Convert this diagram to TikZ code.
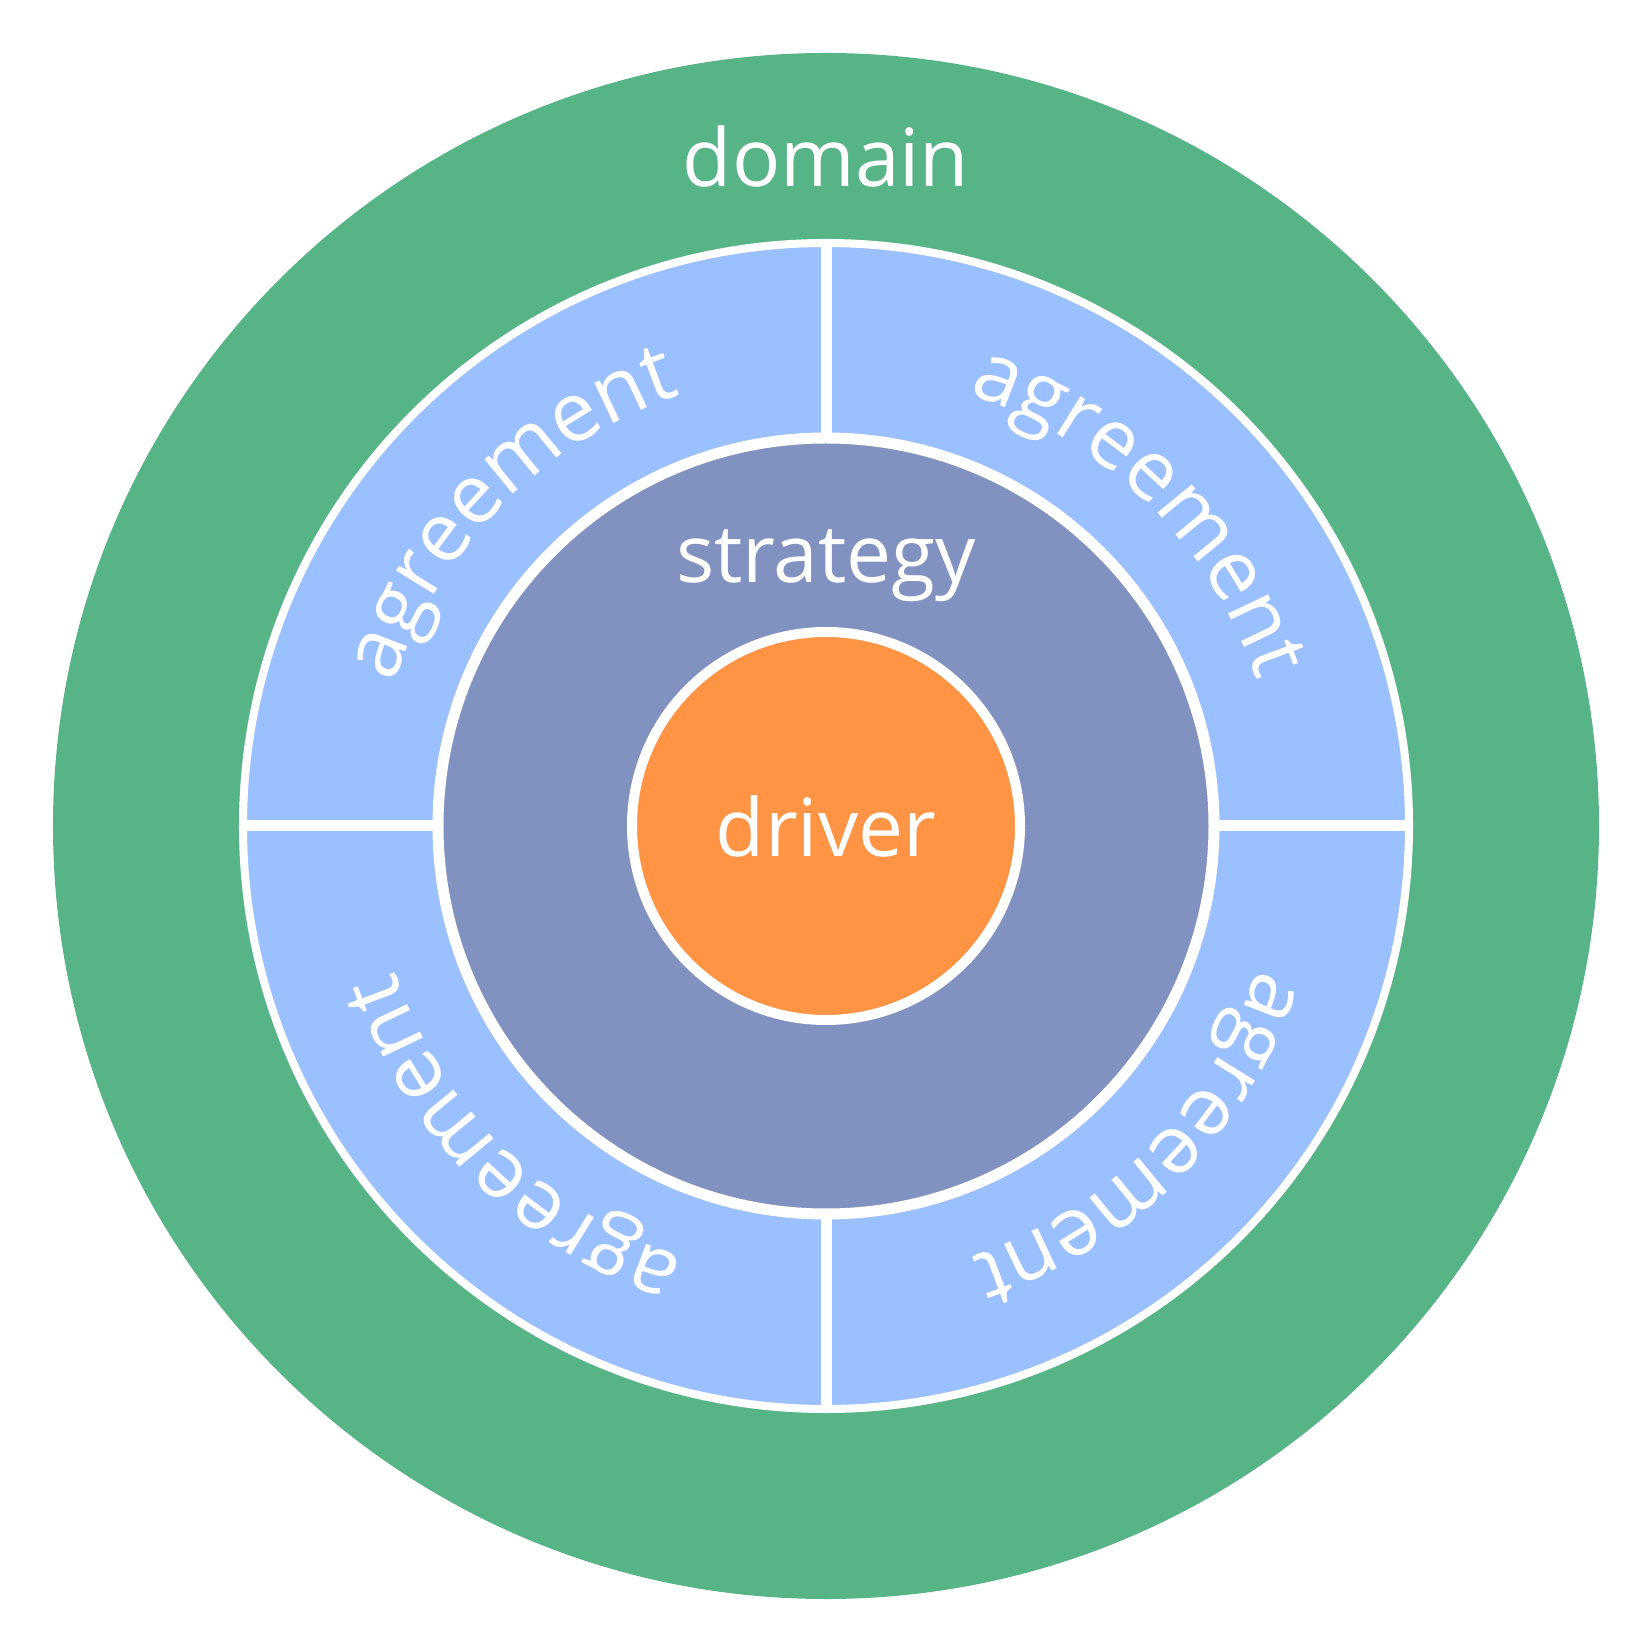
\documentclass[tikz,border=0pt]{standalone}
\usepackage{fontspec}
\setmainfont{Open Sans}
\usepackage{tikz}
\usetikzlibrary{decorations.text}
\definecolor{domaingreen}{HTML}{57B486}
\definecolor{agreeblue}{HTML}{9BC0FF}
\definecolor{stratpurple}{HTML}{8292C0}
\definecolor{driverorange}{HTML}{FF9444}
\newcommand{\ringfont}{\fontsize{22.8}{27}\selectfont}
\newcommand{\arcfont}{\fontsize{23.6}{28}\selectfont}
\tikzset{ring/.style={draw=white,line width=0.1cm}, ringtext/.style={text=white,font=\ringfont,inner sep=0pt}}

\begin{document}
\begin{tikzpicture}[x=0.01cm,y=0.01cm]
\useasboundingbox (-826,-826) rectangle (826,826);
\fill[domaingreen] (0,0) circle (773);
\draw[ring,line width=0.08cm,fill=agreeblue] (0,0) circle (583);
\foreach \a in {0,90,180,270} \draw[ring,line width=0.11cm] (0,0) -- (\a:583);
\draw[ring,line width=0.11cm,fill=stratpurple] (0,0) circle (388);
\draw[ring,fill=driverorange] (0,0) circle (194);
% labels
\node[ringtext,anchor=base] (domain) at (0,639) {domain};
\node[ringtext,anchor=base] (strategy) at (0,243) {strategy};
\node[ringtext,anchor=base] (driver) at (0,-31) {driver};
\foreach \c in {135,45,-45,-135}
  \path[decorate,decoration={text along path,text color=white,text align=fit to path,
    text={|\arcfont|agreement}}] (\c+26.8:455) arc[start angle=\c+26.8,end angle=\c-25.8,radius=455];
\end{tikzpicture}
\end{document}
